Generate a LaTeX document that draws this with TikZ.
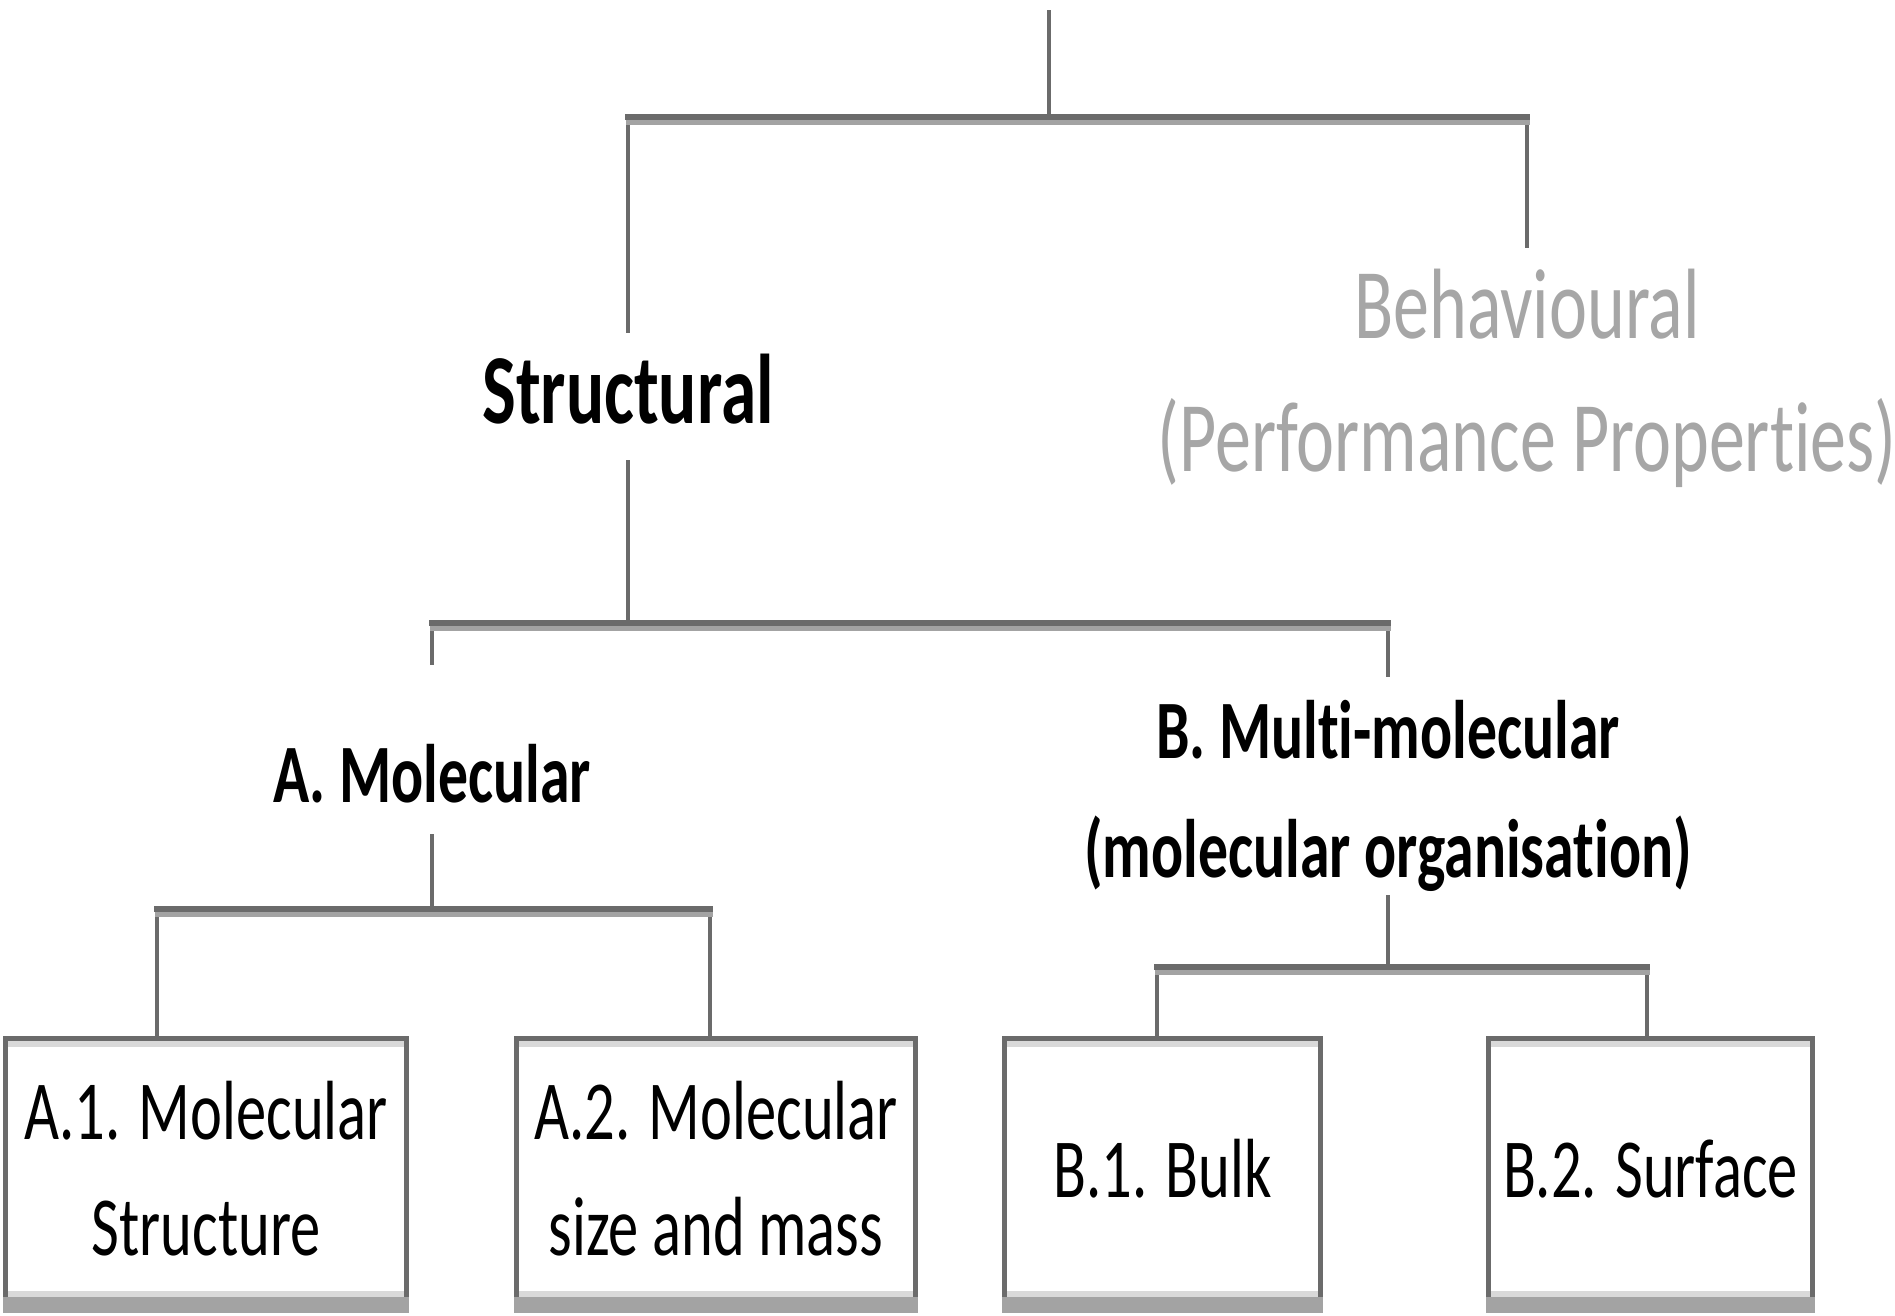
\documentclass[tikz,border=0pt]{standalone}
\usepackage{fontspec}
\setmainfont[FakeStretch=0.72,Ligatures=NoCommon]{Carlito}
\definecolor{ln}{HTML}{6B6B6B}
\definecolor{lt}{HTML}{A3A3A3}
\definecolor{bandlt}{HTML}{D9D9D9}
\definecolor{grtext}{HTML}{A6A6A6}
\begin{document}
\begin{tikzpicture}[x=1pt,y=-1pt,
  conn/.style={draw=ln,line width=4},
  bardk/.style={draw=ln,line width=6,line cap=rect},
  barlt/.style={draw=lt,line width=5,line cap=rect},
  lvlone/.style={inner sep=0,font=\fontsize{99}{133}\selectfont\bfseries},
  lvlgray/.style={inner sep=0,align=center,text=grtext,font=\fontsize{100}{133}\selectfont},
  lvltwo/.style={inner sep=0,align=center,font=\fontsize{83}{119}\selectfont\bfseries},
  boxnode/.style={draw=ln,line width=5,fill=white,inner sep=0,outer sep=0,align=center,
    minimum height=261,font=\fontsize{84}{116}\selectfont}]
\useasboundingbox (0,0) rectangle (1895,1315);

% text nodes
\node[lvlone] (S) at (628,389) {Structural};
\node[lvlgray] (Bh) at (1527,378) {Behavioural\\(Performance Properties)};
\node[lvltwo] (A) at (432,774) {A. Molecular};
\node[lvltwo] (B) at (1388,796) {B. Multi-molecular\\(molecular organisation)};

% boxes
\node[boxnode,minimum width=401] (A1) at (206,1169) {A.1. Molecular\\Structure};
\node[boxnode,minimum width=399] (A2) at (716,1169) {A.2. Molecular\\size and mass};
\node[boxnode,minimum width=316] (B1) at (1162.5,1169) {B.1. Bulk};
\node[boxnode,minimum width=324] (B2) at (1650.5,1169) {B.2. Surface};
\foreach \b in {A1,A2,B1,B2}{
  \fill[bandlt] ([shift={(2.5,2.5)}]\b.north west) rectangle ([shift={(-2.5,8.5)}]\b.north east);
  \fill[bandlt] ([shift={(2.5,-8.5)}]\b.south west) rectangle ([shift={(-2.5,-2.5)}]\b.south east);
  \fill[lt] ([shift={(-2.5,-2.5)}]\b.south west) rectangle ([shift={(2.5,13)}]\b.south east);
}

% coordinates
\coordinate (top) at (1049,10);
\coordinate (j0) at (1049,117);
\coordinate (j0L) at (628,117);
\coordinate (j0R) at (1527,117);
\coordinate (sIn) at (628,333);
\coordinate (bIn) at (1527,248);
\coordinate (sOut) at (628,460);
\coordinate (j1) at (628,623);
\coordinate (j1L) at (432,623);
\coordinate (j1R) at (1388,623);
\coordinate (aIn) at (432,665);
\coordinate (bmIn) at (1388,677);
\coordinate (aOut) at (432,834);
\coordinate (j2) at (432,909);
\coordinate (j2L) at (157,909);
\coordinate (j2R) at (710,909);
\coordinate (bmOut) at (1388,895);
\coordinate (j3) at (1388,967);
\coordinate (j3L) at (1157,967);
\coordinate (j3R) at (1647,967);

% connectors
\draw[conn] (top) -- (j0);
\draw[conn] (j0L) -- (sIn);
\draw[conn] (j0R) -- (bIn);
\draw[conn] (sOut) -- (j1);
\draw[conn] (j1L) -- (aIn);
\draw[conn] (j1R) -- (bmIn);
\draw[conn] (aOut) -- (j2);
\draw[conn] (j2L) -- (j2L |- A1.north);
\draw[conn] (j2R) -- (j2R |- A2.north);
\draw[conn] (bmOut) -- (j3);
\draw[conn] (j3L) -- (j3L |- B1.north);
\draw[conn] (j3R) -- (j3R |- B2.north);

% bars
\foreach \l/\r in {j0L/j0R,j1L/j1R,j2L/j2R,j3L/j3R}{
  \draw[barlt] ([shift={(0,5)}]\l) -- ([shift={(0,5)}]\r);
  \draw[bardk] (\l) -- (\r);
}
\end{tikzpicture}
\end{document}
